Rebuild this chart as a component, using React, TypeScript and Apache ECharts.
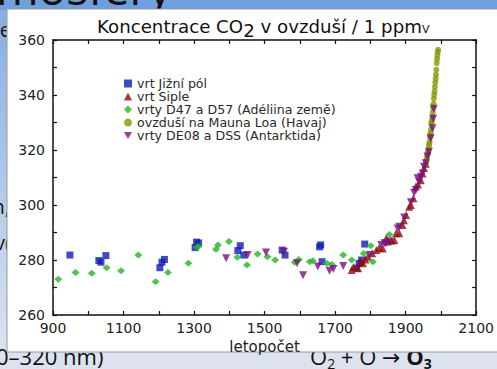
import React, { useEffect, useRef } from "react";
import * as echarts from "echarts";

const seriesNames = [
  "vrt Jižní pól",
  "vrt Siple",
  "vrty D47 a D57 (Adéliina země)",
  "ovzduší na Mauna Loa (Havaj)",
  "vrty DE08 a DSS (Antarktida)",
];

const southPole: number[][] = [
  [948, 281.8], [1030, 279.8], [1036, 279.2], [1050, 281.6], [1203, 277.2], [1209, 279.2],
  [1216, 280.2], [1303, 284.5], [1307, 286.5], [1313, 286.2], [1424, 283.4], [1431, 285.2],
  [1441, 281.8], [1550, 283.6], [1558, 281.8], [1656, 284.8], [1659, 285.5], [1663, 279.4],
  [1761, 277], [1768, 278.8], [1775, 280], [1784, 285.8],
];

const siple: number[][] = [
  [1747, 276.4], [1752, 277.5], [1765, 277], [1772, 279.5], [1779, 278.8], [1786, 280.2],
  [1793, 281.2], [1805, 282.5], [1817, 283.6], [1825, 284.5], [1835, 284.2], [1845, 287.9],
  [1849, 286.7], [1860, 287], [1868, 287.3], [1873, 289.7], [1882, 289.7], [1891, 292.7],
  [1895, 294.5], [1901, 296.4], [1910, 299.4], [1915, 300], [1922, 302.5], [1929, 306.7],
  [1935, 307.5], [1943, 309], [1948, 311.5], [1952, 313.5], [1957, 315],
];

const adelie: number[][] = [
  [915, 273], [964, 275.5], [1010, 275.2], [1052, 277.2], [1093, 276.1], [1142, 281.8],
  [1191, 272.1], [1226, 275.5], [1284, 278.8], [1309, 284.6], [1312, 285], [1362, 283.9],
  [1368, 285.5], [1399, 286.7], [1423, 281], [1450, 278.2], [1480, 282.2], [1508, 281.2],
  [1530, 280], [1585, 279.2], [1597, 280.2], [1628, 279.4], [1637, 279.7], [1677, 278.8],
  [1691, 278.4], [1723, 281.8], [1747, 280], [1781, 282.4], [1801, 285.2], [1807, 279.4],
  [1854, 289.3],
];

const maunaLoa: number[][] = [
  [1958, 315.3], [1959, 316], [1960, 316.9], [1961, 317.6], [1962, 318.5], [1963, 319],
  [1964, 319.6], [1965, 320], [1966, 321.4], [1967, 322.2], [1968, 323], [1969, 324.6],
  [1970, 325.7], [1971, 326.3], [1972, 327.5], [1973, 329.7], [1974, 330.2], [1975, 331.1],
  [1976, 332], [1977, 333.8], [1978, 335.4], [1979, 336.8], [1980, 338.7], [1981, 340.1],
  [1982, 341.4], [1983, 343], [1984, 344.6], [1985, 346], [1986, 347.4], [1987, 349.2],
  [1988, 351.6], [1989, 353.1], [1990, 354.4], [1991, 355.6], [1992, 356.4],
];

const de08: number[][] = [
  [1391, 280.6], [1452, 281.8], [1504, 282.7], [1555, 283], [1592, 278.8], [1609, 274.5],
  [1651, 277.6], [1684, 276.1], [1695, 276.7], [1723, 277.8], [1798, 281.8], [1831, 285.5],
  [1840, 286.1], [1845, 286.1], [1854, 286.7], [1877, 291.5], [1882, 292.1], [1896, 295.5],
  [1915, 301], [1924, 304.5], [1929, 305.5], [1934, 309.7], [1938, 308.5], [1943, 310.3],
  [1948, 311.5], [1952, 313.9], [1957, 315.2], [1962, 317.6], [1966, 319.4], [1971, 324.3],
  [1976, 327.9], [1978, 331.5], [1980, 335],
];

const xMin = 900;
const xMax = 2100;
const yMin = 260;
const yMax = 360;

const FONT = "DejaVu Sans, Liberation Sans, sans-serif";
const SLIDE_FONT = "'Open Sans', 'DejaVu Sans', sans-serif";

const abs = (s: React.CSSProperties): React.CSSProperties => ({
  position: "absolute",
  whiteSpace: "nowrap",
  fontFamily: SLIDE_FONT,
  color: "#111",
  margin: 0,
  ...s,
});

export default function App() {
  const ref = useRef<HTMLDivElement>(null);

  useEffect(() => {
    if (!ref.current) return;
    const chart = echarts.init(ref.current, null, { renderer: "svg" });

    const axisCommon = {
      axisLine: { show: true, onZero: false, lineStyle: { color: "#111", width: 1.5 } },
      axisTick: { show: true, inside: true, length: 4, lineStyle: { color: "#111", width: 1.2 } },
      splitLine: { show: false },
    };

    chart.setOption({
      animation: false,
      backgroundColor: "transparent",
      graphic: [
        {
          type: "rect",
          z: -5,
          shape: { x: 7, y: 9, width: 500, height: 343 },
          style: { fill: "#ffffff", stroke: "#9a9a9a", lineWidth: 1 },
          silent: true,
        },
      ],
      title: {
        text: "{a|Koncentrace CO}{s|2}{a| v ovzduší / 1 ppm}{v|V}",
        left: 97,
        top: 13,
        padding: 0,
        textStyle: {
          fontWeight: "normal",
          rich: {
            a: { fontSize: 18.2, fontFamily: FONT, fontWeight: "normal", color: "#111", lineHeight: 20 },
            s: { fontSize: 18.2, fontFamily: FONT, fontWeight: "normal", color: "#111", padding: [8, 0, 0, 0] },
            v: { fontSize: 11, fontFamily: FONT, fontWeight: "normal", color: "#111", padding: [6, 0, 0, 0] },
          },
        },
      },
      legend: {
        orient: "vertical",
        left: 124,
        top: 77,
        itemWidth: 8,
        itemHeight: 8,
        itemGap: 0,
        padding: 0,
        textStyle: { fontSize: 12.6, fontFamily: FONT, color: "#2a2a2a", lineHeight: 13 },
        data: seriesNames,
      },
      grid: { left: 53, right: 16, top: 40, bottom: 54, containLabel: false },
      xAxis: [
        {
          type: "value",
          min: xMin,
          max: xMax,
          interval: 100,
          position: "bottom",
          ...axisCommon,
          axisLabel: {
            fontSize: 14,
            fontFamily: FONT,
            color: "#222",
            margin: 6,
            formatter: (v: number) => ((v - xMin) % 200 === 0 ? String(v) : ""),
          },
          name: "letopočet",
          nameLocation: "middle",
          nameGap: 22,
          nameTextStyle: { fontSize: 15, fontFamily: FONT, color: "#222" },
        },
        {
          type: "value",
          min: xMin,
          max: xMax,
          interval: 100,
          position: "top",
          ...axisCommon,
          axisLabel: { show: false },
        },
      ],
      yAxis: [
        {
          type: "value",
          min: yMin,
          max: yMax,
          interval: 10,
          position: "left",
          ...axisCommon,
          axisLabel: {
            fontSize: 14,
            fontFamily: FONT,
            color: "#222",
            margin: 8,
            formatter: (v: number) => ((v - yMin) % 20 === 0 ? String(v) : ""),
          },
        },
        {
          type: "value",
          min: yMin,
          max: yMax,
          interval: 10,
          position: "right",
          ...axisCommon,
          axisLabel: { show: false },
        },
      ],
      series: [
        {
          name: seriesNames[0],
          type: "scatter",
          data: southPole,
          symbol: "rect",
          symbolSize: 7,
          itemStyle: { color: "#0f1db5" },
        },
        {
          name: seriesNames[1],
          type: "scatter",
          data: siple,
          symbol: "triangle",
          symbolSize: 8,
          itemStyle: { color: "#8e0a0a" },
        },
        {
          name: seriesNames[2],
          type: "scatter",
          data: adelie,
          symbol: "diamond",
          symbolSize: [8, 7],
          itemStyle: { color: "#22b622" },
        },
        {
          name: seriesNames[3],
          type: "scatter",
          data: maunaLoa,
          symbol: "circle",
          symbolSize: 6,
          itemStyle: { color: "#7f9c00" },
        },
        {
          name: seriesNames[4],
          type: "scatter",
          data: de08,
          symbol: "path://M0,0L10,0L5,9Z",
          symbolSize: 8,
          itemStyle: { color: "#7d0f7d" },
        },
      ],
    });

    return () => chart.dispose();
  }, []);

  return (
    <div
      style={{
        position: "fixed",
        left: 0,
        top: 0,
        width: 497,
        height: 369,
        overflow: "hidden",
        background: "linear-gradient(to bottom, #86ace2 0%, #b5cbea 55%, #e0e6ef 100%)",
      }}
    >
      <div style={{ position: "absolute", left: 0, top: 0, width: 497, height: 10, background: "#6f9fdd" }} />
      <div style={{ position: "absolute", left: 0, top: 352, width: 497, height: 17, background: "#dde3ee" }} />
      <div style={abs({ left: -4, top: -36, fontSize: 46, lineHeight: "46px" })}>mosféry</div>
      <div style={abs({ right: 486, top: 20, fontSize: 20, lineHeight: "20px", textAlign: "right" })}>ře</div>
      <div style={abs({ right: 487, top: 197, fontSize: 20, lineHeight: "20px", textAlign: "right" })}>n,</div>
      <div style={abs({ right: 486, top: 233, fontSize: 20, lineHeight: "20px", textAlign: "right" })}>v(</div>
      <div style={abs({ left: -4, top: 345, fontSize: 22, lineHeight: "22px" })}>0–320 nm)</div>
      <div style={abs({ left: 310, top: 345, fontSize: 22, lineHeight: "22px" })}>
        O<sub style={{ fontSize: 14, verticalAlign: "-4px" }}>2</sub> + O → <b>O<sub style={{ fontSize: 14, verticalAlign: "-4px" }}>3</sub></b>
      </div>
      <div ref={ref} style={{ position: "absolute", left: 0, top: 0, width: 497, height: 369 }} />
    </div>
  );
}
